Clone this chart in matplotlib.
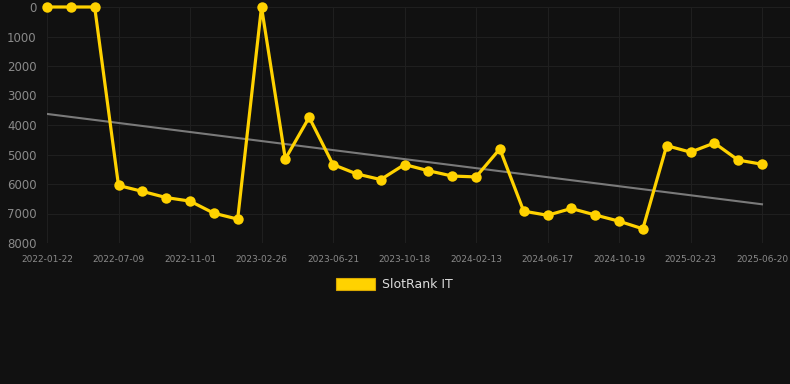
import numpy as np
import matplotlib
matplotlib.use("Agg")
import matplotlib.pyplot as plt

# SlotRank IT position per sample (lower rank number = better, axis is inverted)
ranks = [0, 0, 0, 6050, 6250, 6460, 6580, 6990, 7190, 0,
         5150, 3740, 5340, 5660, 5850, 5340, 5550, 5730, 5760, 4810,
         6920, 7060, 6830, 7050, 7260, 7520, 4700, 4920, 4610, 5190, 5330]
# only every third sample gets a date label on the x axis
tick_labels = ["2022-01-22", "2022-07-09", "2022-11-01", "2023-02-26",
               "2023-06-21", "2023-10-18", "2024-02-13", "2024-06-17",
               "2024-10-19", "2025-02-23", "2025-06-20"]
y_ticks = [0, 1000, 2000, 3000, 4000, 5000, 6000, 7000, 8000]

bg = "#111111"
grid_col = "#1f1f1f"
yellow = "#FFD200"

x = np.arange(len(ranks))
slope, icpt = np.polyfit(x, ranks, 1)
trend = slope * x + icpt

fig = plt.figure(figsize=(7.9, 3.84), dpi=100, facecolor=bg)
ax = fig.add_axes([47 / 790, 141 / 384, 743 / 790, 236 / 384], facecolor=bg)

ax.plot(x, trend, color="#7a7a7a", lw=1.5, zorder=2)
ax.plot(x, ranks, color=yellow, lw=2.3, marker="o", ms=7.5,
        markeredgewidth=0, zorder=3, clip_on=False, label="SlotRank IT")

ax.set_xlim(0, (790 - 47) / ((762 - 47) / 30))
ax.set_ylim(8000, 0)
ax.set_yticks(y_ticks)
ax.set_yticklabels([str(v) for v in y_ticks])
ax.set_xticks(x[::3])
ax.set_xticklabels(tick_labels)

ax.grid(True, color=grid_col, lw=0.8)
ax.set_axisbelow(True)
for s in ax.spines.values():
    s.set_visible(False)
ax.tick_params(axis="y", length=0, pad=7.5, labelcolor="#8a8a8a", labelsize=8.5)
ax.tick_params(axis="x", length=0, pad=9, labelcolor="#8a8a8a", labelsize=6.5)

# legend box below the plot
fig.patches.append(plt.Rectangle((336 / 790, 1 - 290 / 384), 39 / 790, 12 / 384,
                                 transform=fig.transFigure, facecolor=yellow,
                                 edgecolor="#d9a800", lw=0.8))
fig.text(382 / 790, 1 - 284.5 / 384, "SlotRank IT", color="#dddddd",
         fontsize=9, va="center", ha="left")

fig.savefig("out.png", dpi=100, facecolor=bg)
